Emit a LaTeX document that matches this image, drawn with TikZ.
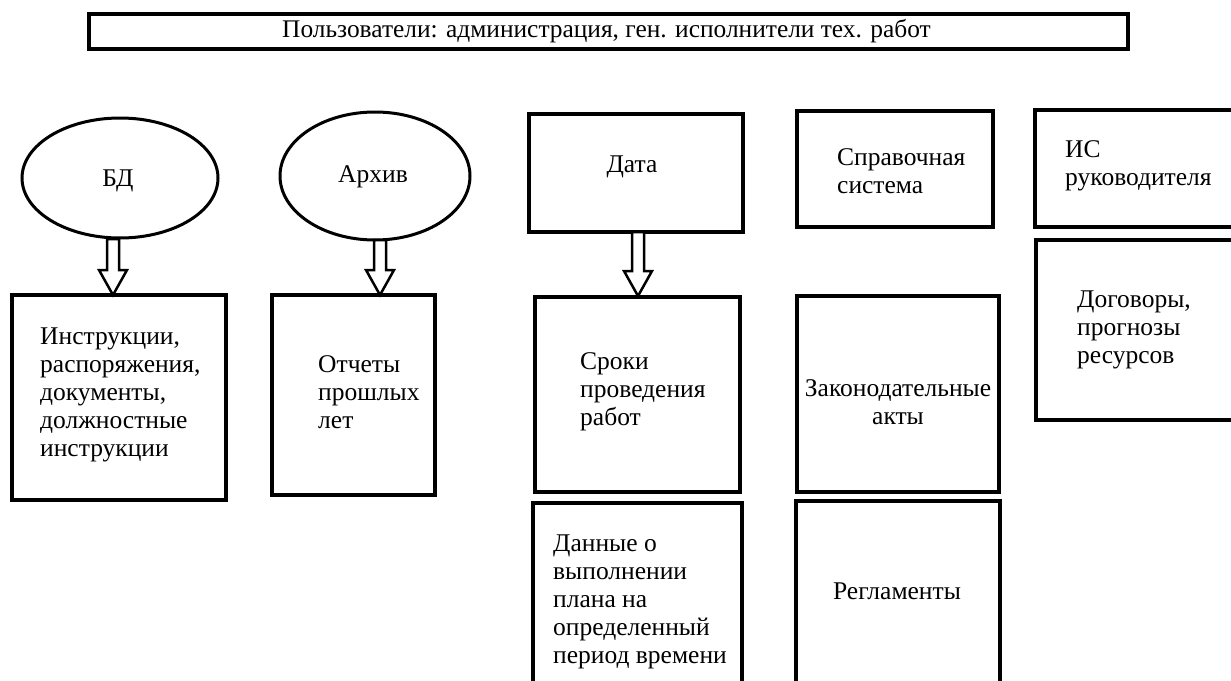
\documentclass[tikz,border=0pt]{standalone}
\usepackage{fontspec}
\setmainfont{Liberation Serif}
\usetikzlibrary{shapes.geometric,calc}
\tikzset{
  box/.style={draw, line width=3.5pt, rectangle, inner sep=0pt},
  oval/.style={draw, line width=3pt, ellipse, inner sep=0pt},
  txt/.style={font=\fontsize{25.5}{28}\selectfont, inner sep=0pt, align=left, anchor=west},
  ctxt/.style={font=\fontsize{25.5}{28}\selectfont, inner sep=0pt, align=center},
  harrow/.style={draw, line width=2.5pt, fill=white, line join=miter}
}
\newcommand\hollowdown[2]{%
  \draw[harrow] ($(#1)+(-6,0)$) -- ($(#2)+(-6,-25)$) -- ($(#2)+(-14,-25)$) -- (#2)
    -- ($(#2)+(14,-25)$) -- ($(#2)+(6,-25)$) -- ($(#1)+(6,0)$) -- cycle;}
\begin{document}
\begin{tikzpicture}[x=1pt,y=-1pt]
\clip (0,0) rectangle (1231,680);
\fill[white] (0,0) rectangle (1231,680);
% top
\node[box, minimum width=1039pt, minimum height=35pt] (top) at (608.5,31.5) {};
\node[ctxt, font=\fontsize{25.4}{28}\selectfont] (toptxt) at (606.5,31) {Пользователи: администрация, ген. исполнители тех. работ};
% ellipses
\node[oval, minimum width=196pt, minimum height=120pt] (bd) at (120,178) {};
\node[ctxt] (bdt) at (118,181) {БД};
\node[oval, minimum width=190pt, minimum height=128pt] (arch) at (375,176) {};
\node[ctxt] (archt) at (373,177) {Архив};
% boxes
\node[box, minimum width=214pt, minimum height=205pt] (instr) at (119,397.5) {};
\node[txt] (instrt) at (40,394.5) {Инструкции,\\распоряжения,\\документы,\\должностные\\инструкции};
\node[box, minimum width=163pt, minimum height=200pt] (otch) at (353.5,395) {};
\node[txt] (otcht) at (318,392) {Отчеты\\прошлых\\лет};
\node[box, minimum width=214pt, minimum height=118pt] (data) at (636,173) {};
\node[ctxt] (datat) at (632,167) {Дата};
\node[box, minimum width=205pt, minimum height=195pt] (sroki) at (637.5,394.5) {};
\node[txt] (srokit) at (580,392) {Сроки\\проведения\\работ};
\node[box, minimum width=209pt, minimum height=197pt] (dann) at (637.5,601.5) {};
\node[txt] (dannt) at (553,602) {Данные о\\выполнении\\плана на\\определенный\\период времени};
\node[box, minimum width=196pt, minimum height=116pt] (sprav) at (895,169) {};
\node[txt] (spravt) at (837,171) {Справочная\\система};
\node[box, minimum width=202pt, minimum height=196pt] (zakon) at (898,394) {};
\node[ctxt] (zakont) at (898,402.5) {Законодательные\\акты};
\node[box, minimum width=204pt, minimum height=199pt] (regl) at (898,600.5) {};
\node[ctxt] (reglt) at (897,591) {Регламенты};
\node[box, minimum width=205pt, minimum height=117pt] (is) at (1137.5,168.5) {};
\node[txt] (ist) at (1065,166) {ИС\\руководителя};
\node[box, minimum width=204pt, minimum height=180pt] (dog) at (1138,330) {};
\node[txt] (dogt) at (1077,330) {Договоры,\\прогнозы\\ресурсов};
% arrows
\coordinate (a1s) at (113,239);
\coordinate (a1e) at (113,295);
\coordinate (a2s) at (380,240);
\coordinate (a2e) at (380,295);
\coordinate (a3s) at (638,232);
\coordinate (a3e) at (638,296);
\hollowdown{a1s}{a1e}
\hollowdown{a2s}{a2e}
\hollowdown{a3s}{a3e}
\end{tikzpicture}
\end{document}
